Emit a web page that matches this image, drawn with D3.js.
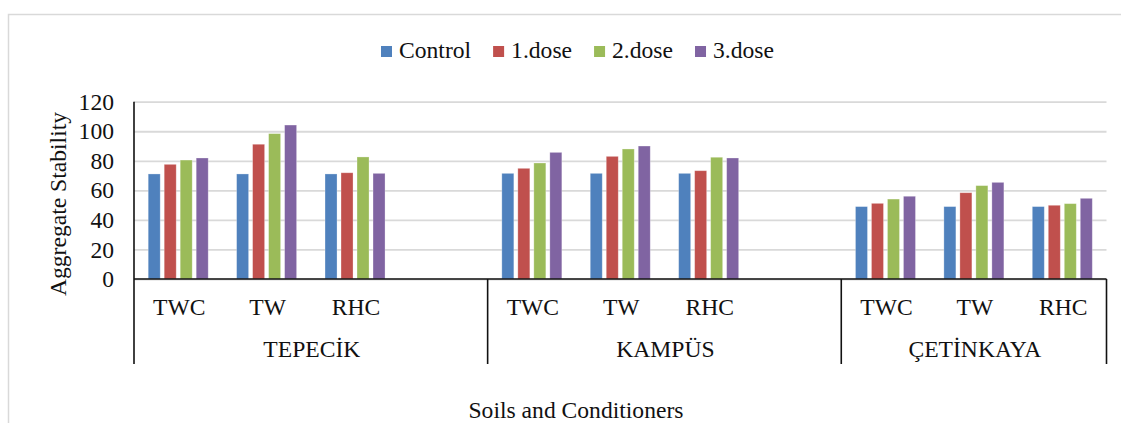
<!DOCTYPE html>
<html>
<head>
<meta charset="utf-8">
<script src="https://cdn.jsdelivr.net/npm/d3@7"></script>
<style>
  html, body { margin: 0; padding: 0; background: #fff; }
  svg { display: block; }
  text { font-family: "Liberation Serif", "Times New Roman", serif; fill: #111; }
</style>
</head>
<body>
<svg id="chart" width="1121" height="423"></svg>
<script>
// Soils, conditioners and dose series
const soils = ["TEPECİK", "KAMPÜS", "ÇETİNKAYA"];
const conditioners = ["TWC", "TW", "RHC"];
const seriesNames = ["Control", "1.dose", "2.dose", "3.dose"];
const seriesColors = ["#4f81bd", "#c0504d", "#9bbb59", "#8064a2"];

// Values ordered soil by soil: TWC, TW, RHC
const control = [71.1, 71.1, 71.1, 71.5, 71.5, 71.5, 49.0, 49.0, 49.0];
const dose1   = [77.6, 91.2, 71.9, 74.9, 83.0, 73.3, 51.2, 58.4, 49.9];
const dose2   = [80.5, 98.4, 82.6, 78.5, 88.0, 82.4, 54.1, 63.2, 51.0];
const dose3   = [81.9, 104.2, 71.5, 85.7, 90.0, 81.9, 56.0, 65.4, 54.6];

const yTicks = [0, 20, 40, 60, 80, 100, 120];
const yTitle = "Aggregate Stability";
const xTitle = "Soils and Conditioners";

const seriesValues = [control, dose1, dose2, dose3];

// Category slots: each soil gets its conditioners plus an empty spacer slot (except the last soil)
const slots = [];
soils.forEach((s, si) => {
  conditioners.forEach(c => slots.push({ key: s + "|" + c, soil: s, label: c }));
  if (si < soils.length - 1) slots.push({ key: s + "|spacer", soil: s, label: "" });
});

const rows = [];
soils.forEach((s, si) => conditioners.forEach((c, ci) => {
  const idx = si * conditioners.length + ci;
  seriesNames.forEach((n, k) => rows.push({ key: s + "|" + c, series: n, value: seriesValues[k][idx] }));
}));

const svg = d3.select("#chart");
const plotLeft = 134, plotRight = 1106.5, plotTop = 101.7, plotBottom = 279, tickBottom = 364;
const fontSize = 23.6;
const serif = "Liberation Serif, Times New Roman, serif";

// Chart area border
svg.append("rect")
  .attr("x", 8.5).attr("y", 14.5).attr("width", 1300).attr("height", 600)
  .attr("fill", "none").attr("stroke", "#d9d9d9").attr("stroke-width", 1.5);

const x = d3.scaleBand().domain(slots.map(d => d.key)).range([plotLeft, plotRight]).padding(0);
const inner = d3.scaleBand().domain(seriesNames).range([0, 60]).paddingInner(0.25);
const y = d3.scaleLinear().domain([0, 120]).range([plotBottom, plotTop]);

// Gridlines
svg.append("g")
  .attr("transform", `translate(${plotLeft},0)`)
  .call(d3.axisLeft(y).tickValues(yTicks).tickSize(-(plotRight - plotLeft)).tickFormat(""))
  .call(g => g.select(".domain").remove())
  .call(g => g.selectAll("line").attr("stroke", "#d9d9d9").attr("stroke-width", 1.8));

// Y tick labels
svg.append("g")
  .attr("transform", `translate(${plotLeft},0)`)
  .call(d3.axisLeft(y).tickValues(yTicks).tickSize(0).tickPadding(20))
  .attr("font-family", serif)
  .call(g => g.select(".domain").remove())
  .call(g => g.selectAll("text")
    .attr("font-size", fontSize).attr("font-family", serif).attr("fill", "#111"));

// Bars
svg.append("g").selectAll("rect")
  .data(rows)
  .join("rect")
  .attr("x", d => x(d.key) + x.bandwidth() / 2 - 30 + inner(d.series))
  .attr("y", d => y(d.value))
  .attr("width", inner.bandwidth())
  .attr("height", d => y(0) - y(d.value))
  .attr("fill", d => seriesColors[seriesNames.indexOf(d.series)])
  .attr("stroke", "#ffffff").attr("stroke-opacity", 0.35).attr("stroke-width", 0.8);

// Axis lines
const axisG = svg.append("g").attr("stroke", "#111").attr("stroke-width", 1.6);
axisG.append("line").attr("x1", plotLeft).attr("x2", plotLeft).attr("y1", plotTop).attr("y2", tickBottom);
axisG.append("line").attr("x1", plotLeft).attr("x2", plotRight).attr("y1", plotBottom).attr("y2", plotBottom);

// Soil group dividers
const groupBounds = soils.map(s => {
  const ks = slots.filter(d => d.soil === s);
  return { soil: s, x0: x(ks[0].key), x1: x(ks[ks.length - 1].key) + x.bandwidth() };
});
groupBounds.forEach((g, i) => {
  if (i > 0) axisG.append("line").attr("x1", g.x0).attr("x2", g.x0).attr("y1", plotBottom).attr("y2", tickBottom);
});
const lastG = groupBounds[groupBounds.length - 1];
axisG.append("line").attr("x1", lastG.x1).attr("x2", lastG.x1).attr("y1", plotBottom).attr("y2", tickBottom);

// Conditioner labels
svg.append("g").selectAll("text")
  .data(slots.filter(d => d.label))
  .join("text")
  .attr("x", d => x(d.key) + x.bandwidth() / 2 + 1)
  .attr("y", 315)
  .attr("text-anchor", "middle")
  .attr("font-family", serif)
  .attr("font-size", fontSize)
  .text(d => d.label);

// Soil labels
svg.append("g").selectAll("text")
  .data(groupBounds)
  .join("text")
  .attr("x", d => (d.x0 + d.x1) / 2 + 1)
  .attr("y", 357)
  .attr("text-anchor", "middle")
  .attr("font-family", serif)
  .attr("font-size", fontSize)
  .text(d => d.soil);

// Axis titles
svg.append("text")
  .attr("transform", "translate(66,204) rotate(-90)")
  .attr("text-anchor", "middle")
  .attr("font-family", serif)
  .attr("font-size", fontSize)
  .text(yTitle);

svg.append("text")
  .attr("x", 576).attr("y", 418)
  .attr("text-anchor", "middle")
  .attr("font-family", serif)
  .attr("font-size", fontSize)
  .text(xTitle);

// Legend
const legend = svg.append("g");
let lx = 381;
seriesNames.forEach((n, i) => {
  legend.append("rect").attr("x", lx).attr("y", 46).attr("width", 11).attr("height", 11).attr("fill", seriesColors[i]);
  const t = legend.append("text").attr("x", lx + 18).attr("y", 58)
    .attr("font-family", serif).attr("font-size", fontSize).text(n);
  lx += 18 + t.node().getComputedTextLength() + 22;
});
</script>
</body>
</html>
